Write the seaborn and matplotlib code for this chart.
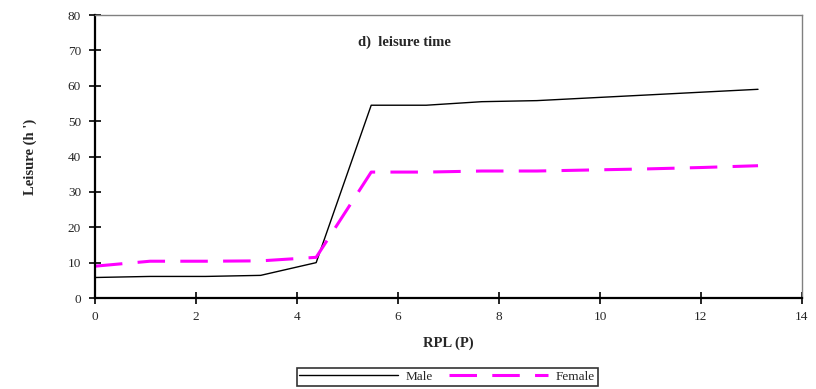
import pandas as pd
import matplotlib
matplotlib.use("Agg")
import matplotlib.pyplot as plt
import seaborn as sns

# data
rpl = [0, 1.09, 2.19, 3.28, 4.38, 5.47, 6.56, 7.66, 8.75, 9.84, 10.94, 12.03, 13.13]
male = [5.8, 6.1, 6.1, 6.4, 10.0, 54.5, 54.5, 55.5, 55.8, 56.6, 57.4, 58.2, 59.0]
female = [9.0, 10.4, 10.4, 10.5, 11.5, 35.6, 35.6, 35.9, 35.9, 36.2, 36.5, 36.9, 37.4]
x_ticks = [0, 2, 4, 6, 8, 10, 12, 14]
y_ticks = [0, 10, 20, 30, 40, 50, 60, 70, 80]

sns.set_style("white")
plt.rcParams['font.family'] = ['Liberation Serif', 'DejaVu Serif']

fig = plt.figure(figsize=(8.16, 3.89), dpi=100)
ax = fig.add_axes([0.1164, 0.2339, 0.8664, 0.7275])

sns.lineplot(x=rpl, y=male, ax=ax, color='black', linewidth=1.0,
             estimator=None, label='Male')
sns.lineplot(x=rpl, y=female, ax=ax, color='#ff00ff', linewidth=2.2,
             estimator=None, linestyle=(0, (9, 5)), label='Female')

ax.set_xlim(0, 14)
ax.set_ylim(0, 80)
ax.set_xticks(x_ticks)
ax.set_yticks(y_ticks)
ax.tick_params(bottom=True, left=True, direction='inout', length=8, width=1.2,
               labelsize=9.5, color='black')
ax.tick_params(axis='x', pad=5)
ax.tick_params(axis='y', pad=6)

for side in ['left', 'bottom']:
    ax.spines[side].set_color('black')
    ax.spines[side].set_linewidth(1.6)
for side in ['top', 'right']:
    ax.spines[side].set_color('#808080')
    ax.spines[side].set_linewidth(1.0)

ax.set_xlabel('RPL (P)', fontsize=10.5, fontweight='bold', labelpad=10)
ax.set_ylabel("Leisure (h ')", fontsize=10.5, fontweight='bold', labelpad=22)
ax.text(0.438, 0.905, 'd)  leisure time', transform=ax.transAxes,
        ha='center', va='center', fontsize=10.5, fontweight='bold')

ax.get_legend().remove()
handles, labels = ax.get_legend_handles_labels()
leg = fig.legend(handles, labels, loc='center', bbox_to_anchor=(0.548, 0.031),
                 ncol=2, fontsize=9.5, frameon=True, fancybox=False,
                 edgecolor='black', handlelength=7.5, borderpad=0.2,
                 columnspacing=1.2, handletextpad=0.6)
leg.get_frame().set_linewidth(1.2)

fig.savefig('out.png', dpi=100)
plt.close(fig)
